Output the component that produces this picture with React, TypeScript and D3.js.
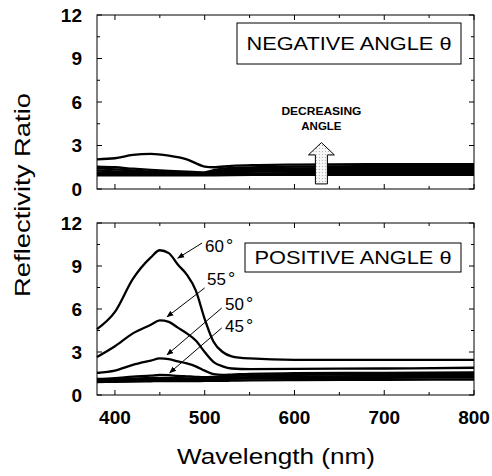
import * as d3 from 'd3';

// wavelength grids (nm)
const wlNeg = [380, 400, 420, 440, 460, 480, 500, 510, 530, 560, 600, 700, 800];
const wlPos = [380, 400, 420, 440, 450, 460, 470, 480, 490, 500, 510, 520, 530, 550, 600, 700, 800];

// negative angle curves (reflectivity ratio)
const negA = [2.05, 2.12, 2.35, 2.42, 2.3, 2.05, 1.55, 1.5, 1.6, 1.65, 1.68, 1.72, 1.72];
const negB = [1.55, 1.5, 1.4, 1.32, 1.25, 1.2, 1.15, 1.3, 1.45, 1.5, 1.55, 1.58, 1.58];
const negC = [1.42, 1.36, 1.27, 1.2, 1.15, 1.1, 1.1, 1.2, 1.35, 1.4, 1.42, 1.45, 1.45];
const negD = [1.28, 1.22, 1.16, 1.1, 1.07, 1.05, 1.05, 1.12, 1.25, 1.3, 1.32, 1.35, 1.35];
const negE = [1.15, 1.12, 1.08, 1.05, 1.03, 1.02, 1.02, 1.05, 1.15, 1.2, 1.22, 1.25, 1.25];
const negF = [1.05, 1.03, 1.0, 0.98, 0.97, 0.97, 0.97, 1.0, 1.05, 1.08, 1.1, 1.12, 1.12];
const negG = [0.95, 0.95, 0.95, 0.95, 0.95, 0.95, 0.95, 0.95, 0.96, 0.97, 0.98, 0.98, 0.98];

// positive angle curves
const pos60 = [4.6, 5.8, 8.1, 9.6, 10.1, 9.9, 9.1, 8.4, 7.3, 5.3, 3.7, 3.0, 2.7, 2.55, 2.45, 2.45, 2.45];
const pos55 = [2.65, 3.4, 4.3, 4.9, 5.2, 5.1, 4.7, 4.3, 3.8, 3.0, 2.3, 2.0, 1.85, 1.8, 1.82, 1.85, 1.9];
const pos50 = [1.55, 1.7, 2.1, 2.4, 2.55, 2.5, 2.35, 2.2, 2.0, 1.7, 1.45, 1.4, 1.42, 1.48, 1.52, 1.55, 1.58];
const pos45 = [1.12, 1.18, 1.28, 1.35, 1.4, 1.38, 1.33, 1.3, 1.27, 1.25, 1.27, 1.3, 1.33, 1.36, 1.4, 1.45, 1.46];
const pos40 = [1.05, 1.08, 1.14, 1.18, 1.2, 1.2, 1.18, 1.16, 1.15, 1.15, 1.16, 1.18, 1.2, 1.24, 1.28, 1.32, 1.33];
const pos35 = [0.98, 1.0, 1.04, 1.07, 1.09, 1.09, 1.08, 1.07, 1.07, 1.07, 1.08, 1.1, 1.12, 1.14, 1.17, 1.2, 1.21];
const pos30 = [0.9, 0.92, 0.94, 0.96, 0.97, 0.97, 0.97, 0.97, 0.97, 0.98, 0.98, 0.99, 1.0, 1.02, 1.04, 1.06, 1.07];

const negSeries = [negA, negB, negC, negD, negE, negF, negG];
const posSeries = [pos60, pos55, pos50, pos45, pos40, pos35, pos30];

const xTicks = [400, 500, 600, 700, 800];
const xMinor = [400, 450, 500, 550, 600, 650, 700, 750, 800];
const yTicks = [0, 3, 6, 9, 12];
const yMinor = [1.5, 4.5, 7.5, 10.5];

// angle annotations: label position, arrow start, arrow end (wavelength, ratio)
const angleLabels = ['60', '55', '50', '45'];
const labelPos = [[500.3, 9.98], [502.5, 7.68], [522.6, 5.93], [522.6, 4.4]];
const arrowFrom = [[497, 10.6], [500, 7.47], [519, 6.07], [519, 4.68]];
const arrowTo = [[470, 9.55], [458, 5.45], [458, 2.8], [461, 1.55]];

const W = 492;
const H = 476;
const left = 97;
const right = 474;
const panels = [
  { top: 15, bottom: 189, title: 'NEGATIVE ANGLE θ', box: [237, 23, 461, 64], series: negSeries, wl: wlNeg, showX: false },
  { top: 223, bottom: 395, title: 'POSITIVE ANGLE θ', box: [245, 243, 461, 272], series: posSeries, wl: wlPos, showX: true },
];

const font = 'Arial, "Liberation Sans", Helvetica, sans-serif';

export default function App() {
  const x = d3.scaleLinear().domain([380, 800]).range([left, right]);

  return (
    <svg width={W} height={H} style={{ position: 'absolute', left: 0, top: 0, background: '#fff' }} fontFamily={font}>
      <defs>
        <pattern id="dots" width="3" height="3" patternUnits="userSpaceOnUse">
          <rect width="3" height="3" fill="#f6f6f6" />
          <rect x="1" y="1" width="1" height="1" fill="#b5b5b5" />
        </pattern>
        <marker id="head" viewBox="0 0 10 10" refX="9" refY="5" markerWidth="7" markerHeight="7" orient="auto">
          <path d="M0,1 L10,5 L0,9 z" fill="#000" />
        </marker>
      </defs>
      {panels.map((p, pi) => {
        const y = d3.scaleLinear().domain([0, 12]).range([p.bottom, p.top]);
        const line = d3
          .line<number>()
          .x((_, i) => x(p.wl[i]))
          .y((d) => y(d))
          .curve(d3.curveMonotoneX);
        return (
          <g key={pi}>
            {p.series.map((s, si) => (
              <path key={si} d={line(s) || ''} fill="none" stroke="#000" strokeWidth={2.3} />
            ))}
            <rect x={left} y={p.top} width={right - left} height={p.bottom - p.top} fill="none" stroke="#000" strokeWidth={1} />
            {xMinor.map((t) => {
              const len = xTicks.includes(t) ? 5 : 3;
              return (
                <g key={'xt' + t}>
                  <line x1={x(t)} x2={x(t)} y1={p.bottom} y2={p.bottom - len} stroke="#000" />
                  <line x1={x(t)} x2={x(t)} y1={p.top} y2={p.top + len} stroke="#000" />
                </g>
              );
            })}
            {yTicks.concat(yMinor).map((t) => {
              const len = yTicks.includes(t) ? 5 : 3;
              return (
                <g key={'yt' + t}>
                  <line x1={left} x2={left + len} y1={y(t)} y2={y(t)} stroke="#000" />
                  <line x1={right} x2={right - len} y1={y(t)} y2={y(t)} stroke="#000" />
                </g>
              );
            })}
            {yTicks.map((t) => (
              <text key={'yl' + t} x={82} y={y(t)} dy="0.36em" textAnchor="end" fontWeight="bold" fontSize={19}>
                {t}
              </text>
            ))}
            {p.showX &&
              xTicks.map((t) => (
                <text key={'xl' + t} x={x(t)} y={p.bottom + 29} textAnchor="middle" fontWeight="bold" fontSize={19}>
                  {t}
                </text>
              ))}
            <rect x={p.box[0]} y={p.box[1]} width={p.box[2] - p.box[0]} height={p.box[3] - p.box[1]} fill="#fff" stroke="#000" strokeWidth={1} />
            <text
              x={(p.box[0] + p.box[2]) / 2}
              y={(p.box[1] + p.box[3]) / 2}
              dy="0.36em"
              textAnchor="middle"
              fontSize={18}
              textLength={pi === 0 ? 205 : 197}
              lengthAdjust="spacingAndGlyphs"
            >
              {p.title}
            </text>
          </g>
        );
      })}

      {/* decreasing angle arrow (top panel) */}
      {(() => {
        const y = d3.scaleLinear().domain([0, 12]).range([189, 15]);
        const cx = x(630);
        const tip = y(3.2);
        const base = y(2.35);
        const bot = y(0.35);
        const pts = [
          [cx, tip],
          [cx + 13, base],
          [cx + 6, base],
          [cx + 6, bot],
          [cx - 6, bot],
          [cx - 6, base],
          [cx - 13, base],
        ];
        return (
          <g>
            <polygon points={pts.map((q) => q.join(',')).join(' ')} fill="url(#dots)" stroke="#000" strokeWidth={1} />
            <text x={cx} y={y(5.1)} textAnchor="middle" fontWeight="bold" fontSize={11.5} textLength={80} lengthAdjust="spacingAndGlyphs">
              DECREASING
            </text>
            <text x={cx} y={y(4.05)} textAnchor="middle" fontWeight="bold" fontSize={11.5}>
              ANGLE
            </text>
          </g>
        );
      })()}

      {/* angle annotations (bottom panel) */}
      {(() => {
        const y = d3.scaleLinear().domain([0, 12]).range([395, 223]);
        return angleLabels.map((lab, i) => (
          <g key={lab}>
            <line
              x1={x(arrowFrom[i][0])}
              y1={y(arrowFrom[i][1])}
              x2={x(arrowTo[i][0])}
              y2={y(arrowTo[i][1])}
              stroke="#000"
              strokeWidth={1}
              markerEnd="url(#head)"
            />
            <text x={x(labelPos[i][0])} y={y(labelPos[i][1])} fontSize={17}>
              {lab}
              <tspan dx={2} fontSize={18}>°</tspan>
            </text>
          </g>
        ));
      })()}

      <text x={W / 2 + 30} y={464} textAnchor="middle" fontSize={22} textLength={198} lengthAdjust="spacingAndGlyphs">
        Wavelength (nm)
      </text>
      <text
        transform={`translate(30,195) rotate(-90)`}
        textAnchor="middle"
        fontSize={22}
        textLength={204}
        lengthAdjust="spacingAndGlyphs"
      >
        Reflectivity Ratio
      </text>
    </svg>
  );
}
